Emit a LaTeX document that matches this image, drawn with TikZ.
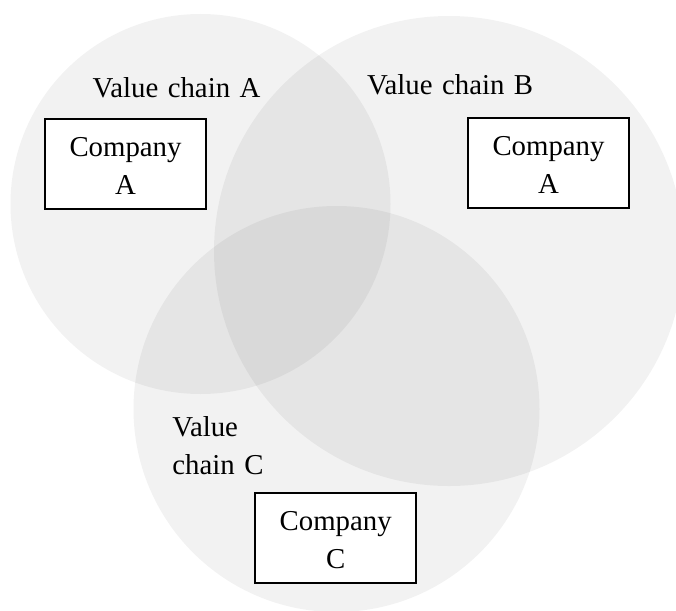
\documentclass[tikz,border=0pt]{standalone}
\usepackage{fontspec}
\setmainfont{Liberation Serif}
\newcommand{\chainlabelfont}{\fontsize{28.8}{38}\selectfont\spaceskip=9.5pt plus 2pt minus 2pt\relax}
\tikzset{
  chain/.style={fill=black, fill opacity=0.05},
  txt/.style={inner sep=0pt, font=\chainlabelfont},
  company/.style={draw=black, line width=1.6pt, fill=white,
    minimum width=161, minimum height=90, inner sep=0pt,
    align=center, font=\fontsize{28.8}{38}\selectfont},
}
\begin{document}
\begin{tikzpicture}[x=1pt, y=-1pt]
  \useasboundingbox (0,0) rectangle (676,610);
  \fill[white] (0,0) rectangle (676,610);

  % the three value chains
  \fill[chain] (200.5,204) circle[radius=190];
  \fill[chain] (449,251) circle[radius=235];
  \fill[chain] (336.5,409) circle[radius=203];

  % chain labels
  \node[txt, anchor=base west] (la) at (92.5,97.3) {Value chain A};
  \node[txt, anchor=base west] (lb) at (366.8,94.8) {Value chain B};
  \node[txt, anchor=north west, align=left] (lc) at (172.2,416.7)
    {\rule{0pt}{20pt}Value\\chain C};

  % companies
  \node[company] (ca) at (125.5,164) {\rule{0pt}{23.4pt}Company\\A};
  \node[company] (cb) at (548.5,163) {\rule{0pt}{23.4pt}Company\\A};
  \node[company] (cc) at (335.7,537.7) {\rule{0pt}{23.4pt}Company\\C};
\end{tikzpicture}
\end{document}
